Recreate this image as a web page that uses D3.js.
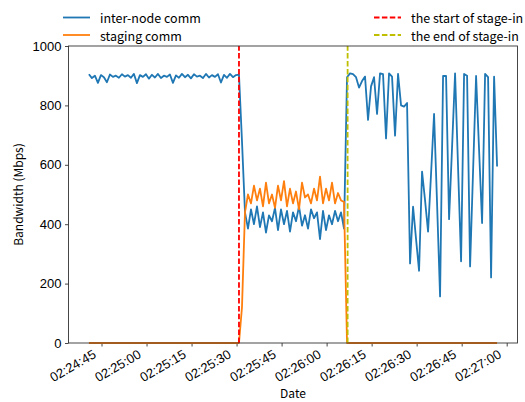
<!DOCTYPE html>
<html>
<head>
<meta charset="utf-8">
<script src="https://cdn.jsdelivr.net/npm/d3@7"></script>
<style>
  body { margin: 0; background: #fff; }
  svg { font-family: "Noto Sans CJK JP", "Noto Sans", sans-serif; }
</style>
</head>
<body>
<div id="chart-area"></div>
<script>
// sampling: one value per second starting at startTime
let startTime = "02:24:40.800";
let startMark = "02:25:30.800";
let endMark = "02:26:07.000";

let interNode = [
    905, 892, 900, 876, 902, 895, 878, 904, 896, 900, 893, 905, 897, 902, 893, 906, 875, 902, 896, 905,
    890, 903, 894, 906, 892, 900, 896, 904, 876, 901, 893, 906, 895, 903, 891, 905, 897, 900, 892, 906,
    894, 902, 896, 905, 877, 903, 893, 906, 895, 902, 904,
    680, 440, 385, 450, 400, 460, 390, 440, 372, 430, 410, 455, 380, 450, 400, 445, 375, 440, 410, 460,
    395, 430, 385, 450, 420, 440, 350, 445, 380, 430, 400, 445, 410, 440, 385,
    895, 908, 905, 895, 860, 882, 897, 751, 864, 895, 771, 908, 905, 689, 908, 897, 698, 906, 800, 796,
    808, 268, 459, 350, 243, 577, 480, 375, 570, 771, 470, 157, 899, 899, 417, 660, 908, 590, 275, 906,
    900, 258, 580, 899, 650, 404, 906, 895, 221, 897, 594
];

let staging = [
    0, 0, 0, 0, 0, 0, 0, 0, 0, 0, 0, 0, 0, 0, 0, 0, 0, 0, 0, 0,
    0, 0, 0, 0, 0, 0, 0, 0, 0, 0, 0, 0, 0, 0, 0, 0, 0, 0, 0, 0,
    0, 0, 0, 0, 0, 0, 0, 0, 0, 0, 0,
    120, 440, 500, 470, 530, 480, 520, 460, 540, 470, 500, 455, 530, 480, 545, 460, 520, 470, 510, 450,
    540, 490, 500, 470, 520, 480, 560, 470, 520, 480, 540, 470, 505, 480, 475,
    0, 0, 0, 0, 0, 0, 0, 0, 0, 0, 0, 0, 0, 0, 0, 0, 0, 0, 0, 0,
    0, 0, 0, 0, 0, 0, 0, 0, 0, 0, 0, 0, 0, 0, 0, 0, 0, 0, 0, 0,
    0, 0, 0, 0, 0, 0, 0, 0, 0, 0, 0
];

let yTicks = [0, 200, 400, 600, 800, 1000];

let width = 525;
let height = 402;
let margin = {left: 68.5, right: 7.5, top: 46, bottom: 59};

let parseTime = d3.timeParse("%H:%M:%S.%L");
let t0 = parseTime(startTime);
let times = interNode.map(function(d, i){ return new Date(+t0 + i * 1000); });

let svg = d3.select("#chart-area")
            .append("svg")
            .attr("width", width)
            .attr("height", height);

// matplotlib style 5% margins on the time axis
let ext = d3.extent(times);
let pad = (ext[1] - ext[0]) * 0.05;
let x = d3.scaleTime()
          .domain([new Date(+ext[0] - pad), new Date(+ext[1] + pad)])
          .range([margin.left, width - margin.right]);

let y = d3.scaleLinear()
          .domain([0, 1000])
          .range([height - margin.bottom, margin.top]);

let plotBottom = height - margin.bottom;

// axes
let xAxis = svg.append("g")
    .attr("transform", "translate(0," + plotBottom + ")")
    .call(d3.axisBottom(x)
            .ticks(d3.timeSecond.every(15))
            .tickSize(3.5)
            .tickPadding(2)
            .tickFormat(d3.timeFormat("%H:%M:%S")));

xAxis.selectAll("text")
    .attr("font-size", 13)
    .attr("fill", "#000")
    .style("text-anchor", "end")
    .attr("x", 0)
    .attr("y", 0)
    .attr("dy", 0)
    .attr("transform", "translate(-5,14) rotate(-30)");

let yAxis = svg.append("g")
    .attr("transform", "translate(" + margin.left + ",0)")
    .call(d3.axisLeft(y)
            .tickValues(yTicks)
            .tickSize(3.5)
            .tickPadding(3.5)
            .tickFormat(d3.format("d")));

yAxis.selectAll("text")
    .attr("font-size", 13)
    .attr("fill", "#000");

svg.selectAll(".domain").remove();
svg.selectAll(".tick line").attr("stroke", "#333").attr("stroke-width", 0.9);

// lines
let line = function(vals){
    return d3.line()
             .x(function(d, i){ return x(times[i]); })
             .y(function(d){ return y(d); })(vals);
};

svg.append("path")
   .attr("d", line(interNode))
   .attr("fill", "none")
   .attr("stroke", "#1f77b4")
   .attr("stroke-width", 1.8)
   .attr("stroke-linejoin", "round");

svg.append("path")
   .attr("d", line(staging))
   .attr("fill", "none")
   .attr("stroke", "#ff7f0e")
   .attr("stroke-width", 1.8)
   .attr("stroke-linejoin", "round");

// stage-in markers
let marks = [
    {t: parseTime(startMark), color: "#ff0000"},
    {t: parseTime(endMark), color: "#bfbf00"}
];

svg.selectAll(".vmark")
   .data(marks)
   .enter()
   .append("line")
   .attr("class", "vmark")
   .attr("x1", function(d){ return x(d.t); })
   .attr("x2", function(d){ return x(d.t); })
   .attr("y1", y(0))
   .attr("y2", y(1000))
   .attr("stroke", function(d){ return d.color; })
   .attr("stroke-width", 1.8)
   .attr("stroke-dasharray", "5.5,2.4");

// frame
svg.append("rect")
   .attr("x", margin.left)
   .attr("y", margin.top)
   .attr("width", width - margin.left - margin.right)
   .attr("height", plotBottom - margin.top)
   .attr("fill", "none")
   .attr("stroke", "#333")
   .attr("stroke-width", 0.9);

// axis titles
svg.append("text")
   .attr("transform", "translate(17," + ((margin.top + plotBottom) / 2) + ") rotate(-90)")
   .attr("text-anchor", "middle")
   .attr("dominant-baseline", "central")
   .attr("font-size", 12)
   .text("Bandwidth (Mbps)");

svg.append("text")
   .attr("x", (margin.left + width - margin.right) / 2)
   .attr("y", 387)
   .attr("text-anchor", "middle")
   .attr("dominant-baseline", "hanging")
   .attr("font-size", 12)
   .text("Date");

// legends above the plot
let legendItems = [
    {label: "inter-node comm", color: "#1f77b4", dash: null, x: 63, y: 17.5},
    {label: "staging comm", color: "#ff7f0e", dash: null, x: 63, y: 35},
    {label: "the start of stage-in", color: "#ff0000", dash: "5.5,2.4", x: 374, y: 17.5},
    {label: "the end of stage-in", color: "#bfbf00", dash: "5.5,2.4", x: 374, y: 35}
];

let leg = svg.selectAll(".legend")
             .data(legendItems)
             .enter()
             .append("g")
             .attr("class", "legend")
             .attr("transform", function(d){ return "translate(" + d.x + "," + d.y + ")"; });

leg.append("line")
   .attr("x1", 0)
   .attr("x2", 27)
   .attr("stroke", function(d){ return d.color; })
   .attr("stroke-width", 1.8)
   .attr("stroke-dasharray", function(d){ return d.dash; });

leg.append("text")
   .attr("x", 37)
   .attr("dominant-baseline", "central")
   .attr("font-size", 12.5)
   .text(function(d){ return d.label; });
</script>
</body>
</html>
